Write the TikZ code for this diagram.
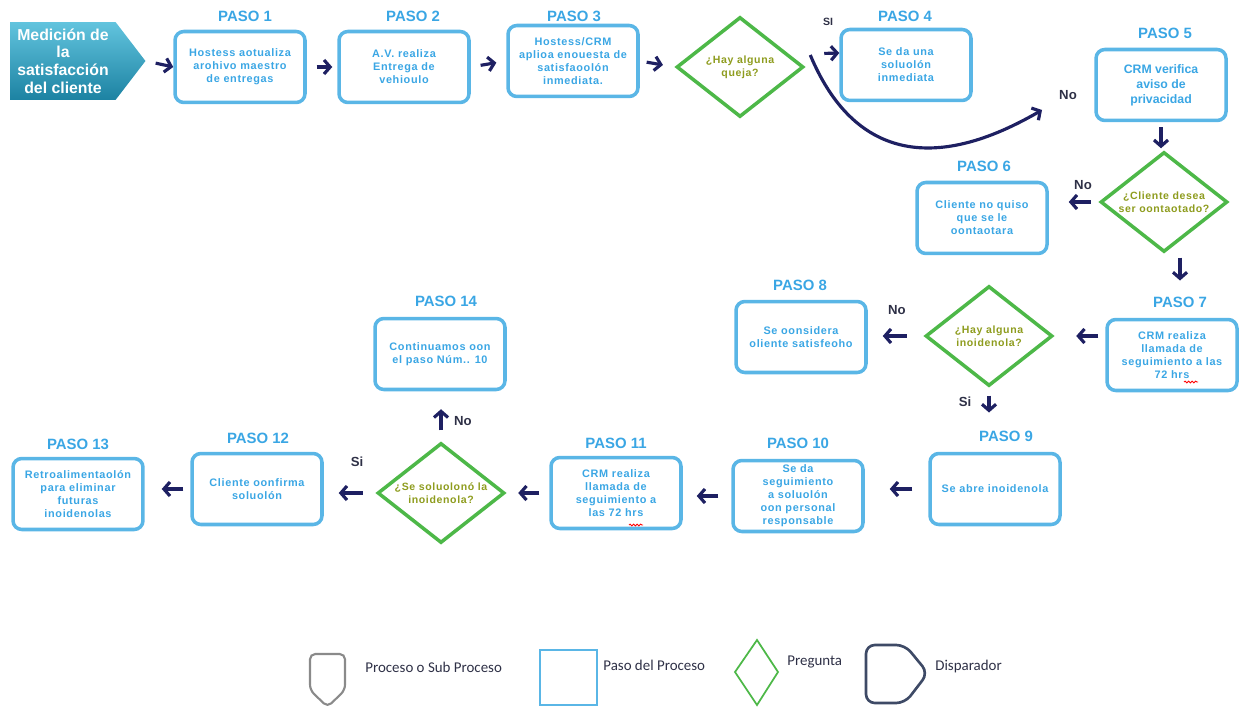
\documentclass[tikz,border=0pt]{standalone}
\usepackage{fontspec}
\setmainfont{Liberation Sans}
\newfontfamily\leyendafont{Carlito}
\newfontfamily\cajafont[LetterSpace=6]{Liberation Sans}
\usetikzlibrary{arrows.meta,shapes.geometric,shapes.symbols,decorations.pathmorphing}
\definecolor{azulcaja}{HTML}{5AB6E6}
\definecolor{azultexto}{HTML}{3AA6E4}
\definecolor{verdepreg}{HTML}{4DB848}
\definecolor{olivapreg}{HTML}{8E9C1E}
\definecolor{marino}{HTML}{1E2062}
\definecolor{tealclaro}{HTML}{62C4DE}
\definecolor{tealoscuro}{HTML}{1C82A2}
\definecolor{grisleyenda}{HTML}{8A8A8A}
\definecolor{pizarra}{HTML}{3E4A66}
\definecolor{gristexto}{HTML}{2E3046}

\begin{document}
\begin{tikzpicture}[x=0.02cm,y=-0.02cm]
        \useasboundingbox (0,0) rectangle (1239,709);

        \begin{scope}[
            paso/.style={draw=azulcaja, line width=2pt, rounded corners=5pt,
                minimum width=2.6cm, minimum height=1.42cm, inner sep=2pt,
                align=center, text=azultexto,
                font=\cajafont\fontsize{6.2}{7.4}\selectfont\bfseries},
            pregunta/.style={draw=verdepreg, line width=2pt, diamond, aspect=1.3,
                minimum width=2.54cm, minimum height=2cm, inner sep=0pt,
                align=center, text=olivapreg,
                font=\cajafont\fontsize{6}{7.2}\selectfont\bfseries},
            titulo/.style={text=azultexto, font=\fontsize{8.5}{10}\selectfont\bfseries},
            etiqueta/.style={text=gristexto, font=\fontsize{7.5}{9}\selectfont\bfseries}]
            \node[signal, signal to=east, signal pointer angle=105,
                minimum width=2.7cm, minimum height=1.56cm, inner sep=1pt,
                top color=tealclaro, bottom color=tealoscuro, draw=none,
                align=center, text=white,
                font=\fontsize{9}{10}\selectfont\bfseries] (inicio) at (63,61)
                {Medición de\\la\\satisfacción\\del cliente};

            \node[paso] (p1) at (240,67) {Hostess  aotualiza\\arohivo maestro\\de  entregas};
            \node[paso] (p2) at (404,67) {A.V.  realiza\\Entrega  de\\vehioulo};
            \node[paso] (p3) at (573,61) {Hostess/CRM\\aplioa  enouesta  de\\satisfaoolón\\inmediata.};
            \node[pregunta] (q1) at (740,67) {¿Hay  alguna\\queja?};
            \node[paso] (p4) at (906,65) {Se da  una\\soluolón\\inmediata};
            \node[paso, font=\fontsize{7}{8.6}\selectfont\bfseries] (p5) at (1161,85)
                {CRM verifica\\aviso de\\privacidad};
            \node[pregunta] (q2) at (1164,202) {¿Cliente  desea\\ser oontaotado?};
            \node[paso] (p6) at (982,218) {Cliente  no quiso\\que  se le\\oontaotara};
            \node[paso] (p7) at (1172,355) {CRM  realiza\\llamada  de\\seguimiento  a las\\72 hrs};
            \node[pregunta] (q3) at (989,336) {¿Hay  alguna\\inoidenola?};
            \node[paso] (p8) at (801,337) {Se oonsidera\\oliente  satisfeoho};
            \node[paso] (p9) at (995,489) {Se abre  inoidenola};
            \node[paso] (p10) at (798,496) {Se da\\seguimiento\\a soluolón\\oon personal\\responsable};
            \node[paso] (p11) at (616,493) {CRM  realiza\\llamada  de\\seguimiento  a\\las 72 hrs};
            \node[pregunta] (q4) at (441,493) {¿Se  soluolonó  la\\inoidenola?};
            \node[paso] (p12) at (257,489) {Cliente  oonfirma\\soluolón};
            \node[paso] (p13) at (78,494) {Retroalimentaolón\\para  eliminar\\futuras\\inoidenolas};
            \node[paso] (p14) at (440,354) {Continuamos  oon\\el paso Núm..  10};

            \node[titulo] (t1) at (245,16) {PASO 1};
            \node[titulo] (t2) at (413,16) {PASO 2};
            \node[titulo] (t3) at (574,16) {PASO 3};
            \node[titulo] (t4) at (905,16) {PASO 4};
            \node[titulo] (t5) at (1165,33) {PASO 5};
            \node[titulo] (t6) at (984,166) {PASO 6};
            \node[titulo] (t7) at (1180,302) {PASO 7};
            \node[titulo] (t8) at (800,285) {PASO 8};
            \node[titulo] (t9) at (1006,436) {PASO 9};
            \node[titulo] (t10) at (798,443) {PASO 10};
            \node[titulo] (t11) at (616,443) {PASO 11};
            \node[titulo] (t12) at (258,438) {PASO 12};
            \node[titulo] (t13) at (78,444) {PASO 13};
            \node[titulo] (t14) at (446,301) {PASO 14};

            \node[etiqueta, font=\fontsize{6}{7}\selectfont\bfseries] (si1) at (828,22) {SI};
            \node[etiqueta] (no1) at (1068,95) {No};
            \node[etiqueta] (no2) at (1083,185) {No};
            \node[etiqueta] (no3) at (897,310) {No};
            \node[etiqueta] (si2) at (965,402) {Si};
            \node[etiqueta] (si3) at (357,462) {Si};
            \node[etiqueta] (no4) at (463,421) {No};
            \coordinate (finno) at (1042,110);
        \end{scope}

        \begin{scope}[
            flecha/.style={draw=marino, line width=1.8pt,
                -{Straight Barb[length=3.5pt,width=8pt]}},
            every edge/.style={flecha}]
            \path (inicio.east) edge[shorten <=0.2cm] (p1.west);
            \path (p1.east) edge[shorten <=0.2cm, shorten >=0.1cm] (p2.west);
            \path (p2.east) edge[shorten <=0.2cm, shorten >=0.2cm] (p3.west);
            \path (p3.east) edge[shorten <=0.14cm, shorten >=0.24cm] (q1.west);
            \path ([yshift=0.26cm]q1.east) edge[shorten <=0.38cm] ([yshift=0.24cm]p4.west);
            \draw[flecha] ([xshift=0.1cm,yshift=0.24cm]q1.east)
                .. controls (850,150) and (925,178) .. (finno);
            \path (p5.south) edge[shorten <=0.1cm, shorten >=0.04cm] (p5.south |- q2.north);
            \path (q2.west) edge[shorten <=0.16cm, shorten >=0.4cm] (q2.west -| p6.east);
            \path (q2.south -| t7.north) edge[shorten <=0.08cm, shorten >=0.2cm] (t7.north);
            \path (p7.west |- q3.east) edge[shorten <=0.14cm, shorten >=0.44cm] (q3.east);
            \path (q3.west) edge[shorten <=0.34cm, shorten >=0.3cm] (q3.west -| p8.east);
            \path (q3.south) edge[shorten <=0.16cm, shorten >=0.24cm] (q3.south |- t9.north);
            \path (p9.west) edge[shorten <=0.32cm, shorten >=0.5cm] (p9.west -| p10.east);
            \path (p10.west) edge[shorten <=0.26cm, shorten >=0.28cm] (p10.west -| p11.east);
            \path (p11.west) edge[shorten <=0.2cm, shorten >=0.24cm] (p11.west -| q4.east);
            \path (q4.west) edge[shorten <=0.26cm, shorten >=0.3cm] (q4.west -| p12.east);
            \path (p12.west) edge[shorten <=0.14cm, shorten >=0.34cm] (p12.west -| p13.east);
            \path (q4.north) edge[shorten <=0.22cm, shorten >=0.36cm] (q4.north |- p14.south);
        \end{scope}

        \draw[red, line width=0.5pt, decorate, decoration={snake, amplitude=0.5pt, segment length=2pt}]
            ([shift={(12,27)}]p7.center) -- ([shift={(26,27)}]p7.center);
        \draw[red, line width=0.5pt, decorate, decoration={snake, amplitude=0.5pt, segment length=2pt}]
            ([shift={(13,32)}]p11.center) -- ([shift={(27,32)}]p11.center);

        \draw[grisleyenda, line width=1.2pt, rounded corners=3pt]
            (310,690) -- (310,654) -- (345,654) -- (345,690) -- (327.5,707) -- cycle;
        \draw[azulcaja, line width=1.2pt] (540,650) rectangle (597,705);
        \draw[verdepreg, line width=1pt] (757,640) -- (778,672) -- (757,705) -- (735,672) -- cycle;
        \draw[pizarra, line width=1.5pt, rounded corners=5pt]
            (866,645) -- (905,645) -- (928,673) -- (905,703) -- (866,703) -- cycle;

        \begin{scope}[
            leyenda/.style={anchor=west, text=gristexto, inner sep=0pt,
                font=\leyendafont\fontsize{8.5}{10}\selectfont}]
            \node[leyenda] (l1) at (365,667) {Proceso o Sub Proceso};
            \node[leyenda] (l2) at (603,665) {Paso del  Proceso};
            \node[leyenda] (l3) at (787,662) {Pregunta};
            \node[leyenda] (l4) at (935,667) {Disparador};
        \end{scope}

        \end{tikzpicture}
\end{document}
